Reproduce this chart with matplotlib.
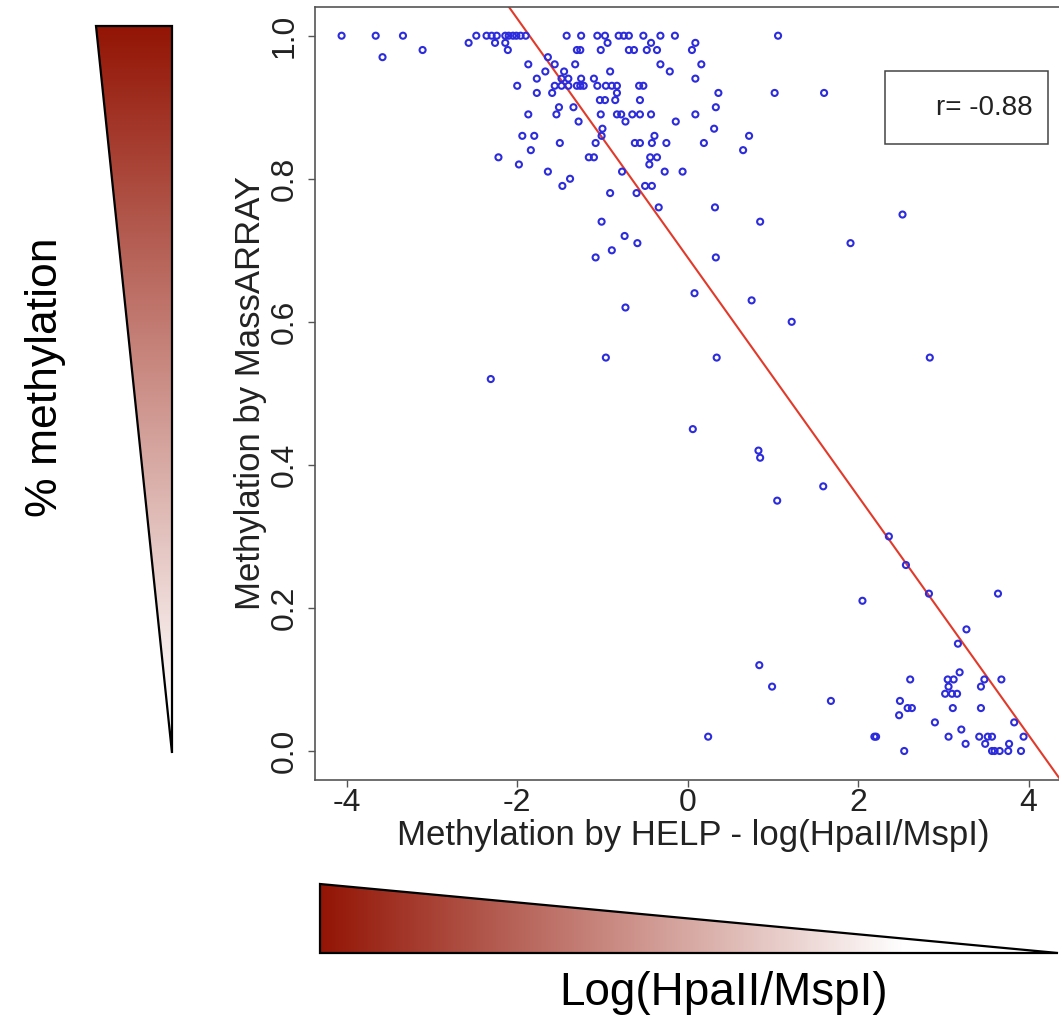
import numpy as np
import matplotlib
matplotlib.use("Agg")
import matplotlib.pyplot as plt
from matplotlib.colors import LinearSegmentedColormap
from matplotlib.patches import Polygon, Rectangle

plt.rcParams['font.family'] = ['Liberation Sans', 'DejaVu Sans']

# ---------------- data ----------------
help_log_ratio = [
    -4.06, -3.66, -3.34, -2.48, -2.36, -2.30, -2.24, -2.14, -2.10, -2.05, -2.01, -1.96,
    -1.90, -1.42, -1.25, -1.06, -0.97, -0.81, -0.75, -0.69, -0.52, -0.32, -0.15, 1.06,
    -2.57, -2.26, -2.14, -0.94, -0.43, 0.09,
    -3.11, -2.11, -1.30, -1.26, -1.02, -0.69, -0.63, -0.48, -0.36, 0.05,
    -3.58, -1.64,
    -1.87, -1.56, -1.32, -0.32, 0.16,
    -1.67, -1.45, -0.91, -0.21,
    -1.77, -1.48, -1.40, -1.25, -1.10, 0.09,
    -2.00, -1.56, -1.48, -1.40, -1.30, -1.26, -1.22, -1.06, -0.96, -0.89, -0.83, -0.57, -0.52,
    -1.77, -1.59, -0.83, 0.36, 1.02, 1.60,
    -1.03, -0.97, -0.85, -0.56,
    -1.51, -1.34, 0.33,
    -1.87, -1.54, -1.02, -0.83, -0.78, -0.65, -0.56, -0.43, 0.09,
    -1.28, -0.73, -0.14,
    -1.00, 0.31,
    -1.94, -1.80, -1.01, -0.39, 0.72,
    -1.50, -1.08, -0.62, -0.56, -0.42, -0.25, 0.19,
    -1.84, 0.65,
    -2.22, -1.16, -1.10, -0.44, -0.36,
    -1.98, -0.45,
    -1.64, -0.77, -0.27, -0.06,
    -1.38,
    -1.47, -0.50, -0.42,
    -0.91, -0.60,
    -0.34, 0.32,
    2.52,
    -1.01, 0.85,
    -0.74,
    -0.59, 1.91,
    -0.89,
    -1.08, 0.33,
    0.08,
    0.75,
    -0.73,
    1.22,
    -0.96, 0.34, 2.84,
    -2.31,
    0.06,
    0.83,
    0.85,
    1.59,
    1.05,
    2.36,
    2.56,
    2.83, 3.64,
    2.05,
    3.27,
    3.17,
    0.84,
    3.19,
    2.61, 3.05, 3.12, 3.48, 3.68,
    0.99, 3.06, 3.44,
    3.02, 3.10, 3.16,
    1.68, 2.49,
    2.58, 2.63, 3.11, 3.44,
    2.48,
    2.90, 3.83,
    3.21,
    0.24, 2.19, 2.21, 3.06, 3.42, 3.52, 3.57, 3.94,
    3.26, 3.49, 3.77,
    2.54, 3.57, 3.60, 3.66, 3.76, 3.91,
]

massarray_methylation = (
    [1.00] * 24 + [0.99] * 6 + [0.98] * 10 + [0.97] * 2 + [0.96] * 5 + [0.95] * 4
    + [0.94] * 6 + [0.93] * 13 + [0.92] * 6 + [0.91] * 4 + [0.90] * 3 + [0.89] * 9
    + [0.88] * 3 + [0.87] * 2 + [0.86] * 5 + [0.85] * 7 + [0.84] * 2 + [0.83] * 5
    + [0.82] * 2 + [0.81] * 4 + [0.80] * 1 + [0.79] * 3 + [0.78] * 2 + [0.76] * 2
    + [0.75] * 1 + [0.74] * 2 + [0.72] * 1 + [0.71] * 2 + [0.70] * 1 + [0.69] * 2
    + [0.64] * 1 + [0.63] * 1 + [0.62] * 1 + [0.60] * 1 + [0.55] * 3 + [0.52] * 1
    + [0.45] * 1 + [0.42] * 1 + [0.41] * 1 + [0.37] * 1 + [0.35] * 1 + [0.30] * 1
    + [0.26] * 1 + [0.22] * 2 + [0.21] * 1 + [0.17] * 1 + [0.15] * 1 + [0.12] * 1
    + [0.11] * 1 + [0.10] * 5 + [0.09] * 3 + [0.08] * 3 + [0.07] * 2 + [0.06] * 4
    + [0.05] * 1 + [0.04] * 2 + [0.03] * 1 + [0.02] * 8 + [0.01] * 3 + [0.00] * 6
)

fit_intercept = 0.69
fit_slope = -0.167
r_label = "r= -0.88"

x_ticks = [-4, -2, 0, 2, 4]
x_tick_labels = ["-4", "-2", "0", "2", "4"]
y_ticks = [0.0, 0.2, 0.4, 0.6, 0.8, 1.0]
y_tick_labels = ["0.0", "0.2", "0.4", "0.6", "0.8", "1.0"]

x_title = "Methylation by HELP - log(HpaII/MspI)"
y_title = "Methylation by MassARRAY"
left_title = "% methylation"
bottom_title = "Log(HpaII/MspI)"

# ---------------- layout ----------------
W, H = 1059, 1018
fig = plt.figure(figsize=(W / 100, H / 100), dpi=100)
fig.patch.set_facecolor("white")


def px_box(l, t, r, b):
    return [l / W, 1 - b / H, (r - l) / W, (b - t) / H]


ax = fig.add_axes(px_box(315, 7.1, 1071.3, 779.6))
ax.set_xlim(-4.372, 4.5)
ax.set_ylim(-0.04, 1.04)

ax.scatter(help_log_ratio, massarray_methylation, s=19, facecolors="none",
           edgecolors="#2c2cdc", linewidths=1.5, zorder=3)
ax.axline((0, fit_intercept), slope=fit_slope, color="#e23a2a", lw=1.5, zorder=2)

for sp in ax.spines.values():
    sp.set_color("#555555")
    sp.set_linewidth(1.2)

ax.set_xticks(x_ticks)
ax.set_xticklabels(x_tick_labels)
ax.set_yticks(y_ticks)
ax.set_yticklabels(y_tick_labels, rotation=90, va="center")
ax.tick_params(length=5, width=1, color="#555555", labelsize=23,
               labelcolor="#222222")
ax.tick_params(axis="x", pad=1)
ax.tick_params(axis="y", pad=6)
ax.set_xlabel(x_title, fontsize=25, color="#222222", labelpad=1)
ax.set_ylabel(y_title, fontsize=25, color="#222222", labelpad=2)

# ---------------- decorative overlay (pixel coordinates) ----------------
ov = fig.add_axes([0, 0, 1, 1], zorder=5)
ov.set_xlim(0, W)
ov.set_ylim(H, 0)
ov.axis("off")
ov.patch.set_alpha(0)

cmap = LinearSegmentedColormap.from_list("redwhite", ["#931505", "#ffffff"])

# vertical wedge
v_tri = Polygon([(96, 26), (172, 26), (172, 753)], closed=True,
                facecolor="none", edgecolor="black", lw=1.6, zorder=3)
ov.add_patch(v_tri)
ys = np.linspace(26, 753, 400)
tv = np.clip((ys - 26) / (715 - 26), 0, 1).reshape(-1, 1)
imv = ov.imshow(tv, extent=(96, 172, 753, 26), cmap=cmap, vmin=0, vmax=1,
                aspect="auto", origin="upper", interpolation="bilinear", zorder=2)
imv.set_clip_path(v_tri)

# horizontal wedge
h_tri = Polygon([(320, 884), (320, 953), (1058, 953)], closed=True,
                facecolor="none", edgecolor="black", lw=1.6, zorder=3)
ov.add_patch(h_tri)
xs = np.linspace(320, 1058, 600)
th = np.clip((xs - 320) / (905 - 320), 0, 1).reshape(1, -1)
imh = ov.imshow(th, extent=(320, 1058, 953, 884), cmap=cmap, vmin=0, vmax=1,
                aspect="auto", origin="upper", interpolation="bilinear", zorder=2)
imh.set_clip_path(h_tri)

ov.set_xlim(0, W)
ov.set_ylim(H, 0)

ov.text(45, 377, left_title, rotation=90, fontsize=32, ha="center", va="center",
        color="black")
ov.text(724, 993, bottom_title, fontsize=33, ha="center", va="center", color="black")

# r legend box
ov.add_patch(Rectangle((885, 71), 163, 73, fill=False, edgecolor="#444444", lw=1.1))
ov.text(1033, 108, r_label, fontsize=20, ha="right", va="center", color="#222222")

fig.savefig("out.png", dpi=100, facecolor="white")
